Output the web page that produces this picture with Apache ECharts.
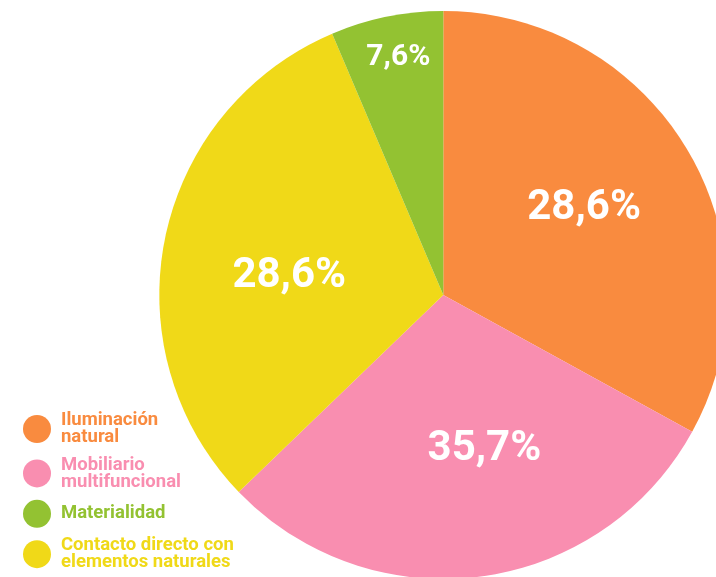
<!DOCTYPE html>
<html>
<head>
<meta charset="utf-8">
<script src="https://cdn.jsdelivr.net/npm/echarts@6/dist/echarts.min.js"></script>
<style>
html,body{margin:0;padding:0;background:#fff;}
#chart{width:716px;height:577px;}
</style>
</head>
<body>
<div id="chart"></div>
<script>
// Categories and values (slice sizes as drawn), with the displayed percentage labels
var categories = ['Iluminación natural', 'Mobiliario multifuncional', 'Materialidad', 'Contacto directo con elementos naturales'];
var legendText = ['Iluminación\nnatural', 'Mobiliario\nmultifuncional', 'Materialidad', 'Contacto directo con\nelementos naturales'];
var sliceValues = [33.0, 29.8, 6.4, 30.8];
var sliceLabels = ['28,6%', '35,7%', '7,6%', '28,6%'];
var colors = ['#F98B3F', '#F98EB0', '#93C232', '#F0D918'];
// Draw order around the pie (clockwise from top): orange, pink, yellow, green
var drawOrder = [0, 1, 3, 2];
var labelSizes = [42, 42, 30, 42];
var labelOffsets = [[16, -13], [22, 11], [-16, -95], [-12, 10]];

var chart = echarts.init(document.getElementById('chart'), null, {renderer: 'canvas'});

var pieData = drawOrder.map(function (i) {
  return {
    name: categories[i],
    value: sliceValues[i],
    itemStyle: {color: colors[i]},
    label: {fontSize: labelSizes[i], offset: labelOffsets[i]}
  };
});

var rich = {};
colors.forEach(function (c, i) {
  rich['c' + i] = {color: c, fontSize: 18.5, fontWeight: 'bold', fontFamily: 'Roboto', lineHeight: 17};
  rich['s' + i] = {color: c, fontSize: 18.5, fontWeight: 'bold', fontFamily: 'Roboto', lineHeight: 34};
});

var option = {
  backgroundColor: '#ffffff',
  animation: false,
  legend: {
    orient: 'vertical',
    left: 23,
    top: 411,
    height: 170,
    padding: 0,
    icon: 'circle',
    itemWidth: 38,
    itemHeight: 28,
    itemGap: 8.4,
    data: categories.map(function (n) { return {name: n}; }),
    formatter: function (name) {
      var i = categories.indexOf(name);
      var t = legendText[i];
      if (t.indexOf('\n') >= 0) {
        return t.split('\n').map(function (l) { return '{c' + i + '|' + l + '}'; }).join('\n');
      }
      return '{s' + i + '|' + t + '}';
    },
    textStyle: {fontFamily: 'Roboto', fontWeight: 'bold', fontSize: 18.5, rich: rich}
  },
  series: [{
    type: 'pie',
    center: [443.3, 295],
    radius: [0, 284],
    startAngle: 90,
    clockwise: true,
    avoidLabelOverlap: false,
    silent: true,
    itemStyle: {borderWidth: 0},
    label: {
      show: true,
      position: 'inside',
      color: '#ffffff',
      fontFamily: 'Roboto',
      fontWeight: 'bold',
      formatter: function (p) { return sliceLabels[drawOrder[p.dataIndex]]; }
    },
    labelLine: {show: false},
    data: pieData
  }]
};
chart.setOption(option);
</script>
</body>
</html>
